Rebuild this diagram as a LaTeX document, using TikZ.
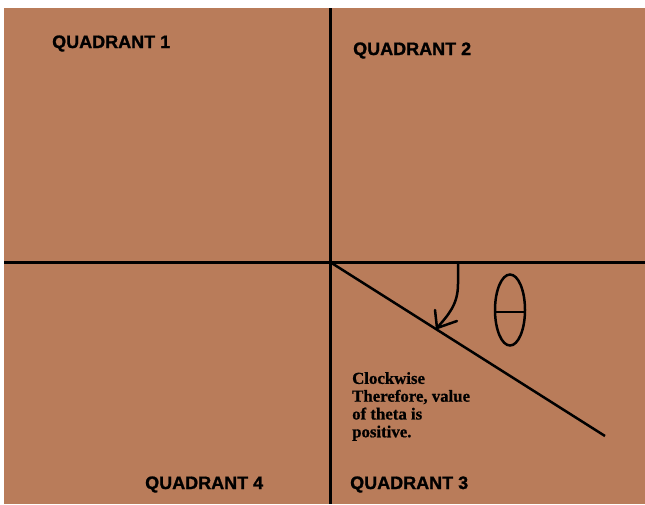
\documentclass[tikz,border=0pt]{standalone}
\usepackage{fontspec}
\usetikzlibrary{shapes.geometric}
\setmainfont{Liberation Serif}
\newfontfamily\quadfont{Liberation Sans Bold}[FakeBold=1.2]
\newfontfamily\notefont{Liberation Serif Bold}[FakeBold=0.8]
\definecolor{bgbrown}{RGB}{185,124,90}
\begin{document}
\begin{tikzpicture}[x=1pt,y=-1pt,
  axis/.style={line width=3pt},
  thinline/.style={line width=2.5pt},
  quadlabel/.style={anchor=base west,inner sep=0pt,font=\quadfont\fontsize{18}{20}\selectfont},
  notetext/.style={anchor=north west,inner sep=0pt,align=left,font=\notefont\fontsize{16.8}{17.8}\selectfont}]
\useasboundingbox (0,0) rectangle (645,504);
\fill[white] (0,0) rectangle (645,504);
\fill[bgbrown] (4,8) rectangle (645,504);
\coordinate (O) at (330,262);
\coordinate (L) at (4,262);
\coordinate (R) at (645,262);
\coordinate (T) at (330,8);
\coordinate (B) at (330,504);
\coordinate (E) at (605,436);
\draw[axis] (L) -- (R);
\draw[axis] (T) -- (B);
\draw[thinline] (O) -- (E);
% curved arrow
\coordinate (AS) at (458,262);
\coordinate (AT) at (437,328);
\draw[thinline,line cap=round,line join=round] (AS) -- (458,284) .. controls (458,305) and (448,315) .. (AT);
\draw[thinline,line cap=round,line join=round] (435,310) -- (AT) -- (457,321);
% theta
\node[draw,ellipse,line width=2.5pt,minimum width=30pt,minimum height=71pt,inner sep=0pt] (theta) at (510,310) {};
\draw[thinline] (theta.west |- 0,312) -- (theta.east |- 0,312);
\node[quadlabel] (q1) at (52,48) {QUADRANT 1};
\node[quadlabel] (q2) at (353,55) {QUADRANT 2};
\node[quadlabel] (q4) at (145,489) {QUADRANT 4};
\node[quadlabel] (q3) at (350,489) {QUADRANT 3};
\node[notetext] (note) at (352,372) {Clockwise\\Therefore, value\\of theta is\\positive.};
\end{tikzpicture}
\end{document}
